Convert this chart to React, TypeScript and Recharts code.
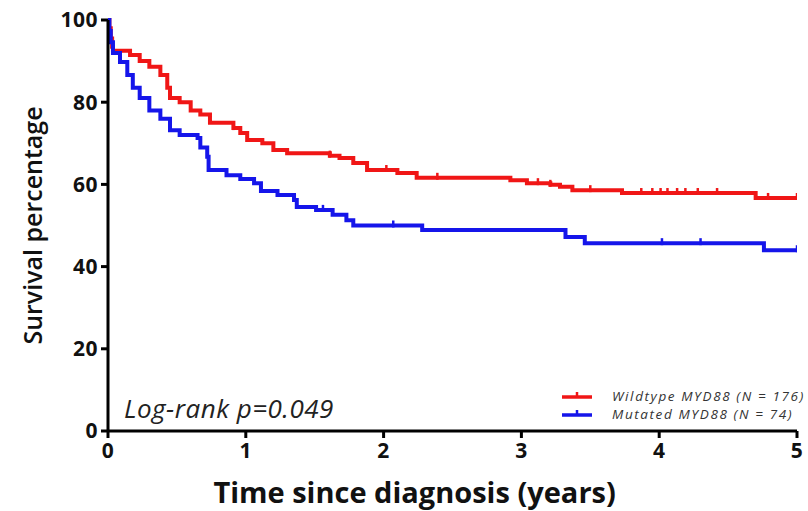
import React from "react";
import {
  ComposedChart,
  Line,
  Scatter,
  XAxis,
  YAxis,
} from "recharts";

// Kaplan–Meier steps: time (years) at which each survival level starts
const wildtypeTimes = [0, 0.01, 0.02, 0.03, 0.036, 0.16, 0.23, 0.3, 0.38, 0.43, 0.45, 0.52, 0.6, 0.67, 0.74, 0.91, 0.96, 1.01, 1.12, 1.2, 1.3, 1.61, 1.68, 1.78, 1.88, 2.1, 2.24, 2.92, 3.04, 3.21, 3.28, 3.37, 3.73, 4.7, 5.0];
const wildtypeSurv = [100, 98, 95.5, 93.5, 92.5, 91.5, 90, 88.6, 86.6, 83.5, 81, 80, 78, 77, 75, 73.7, 72.5, 70.8, 70, 68.4, 67.6, 67, 66.4, 65.2, 63.5, 62.8, 61.6, 61, 60.3, 59.9, 59.4, 58.6, 57.9, 56.7, 56.7];
const wildtypeCensored = [0.91, 1.61, 2.02, 2.39, 3.12, 3.21, 3.5, 3.87, 3.95, 4.01, 4.06, 4.13, 4.19, 4.28, 4.42, 4.79, 5.0];

const mutatedTimes = [0, 0.01, 0.02, 0.036, 0.087, 0.14, 0.18, 0.23, 0.3, 0.38, 0.45, 0.52, 0.65, 0.67, 0.72, 0.73, 0.86, 0.96, 1.06, 1.11, 1.23, 1.35, 1.37, 1.51, 1.63, 1.73, 1.78, 2.28, 3.32, 3.46, 4.76, 5.0];
const mutatedSurv = [100, 97.3, 94.6, 92, 89.8, 86.6, 83.5, 81, 78, 76, 73.2, 72, 71.3, 69, 66.7, 63.5, 62.2, 61.3, 60.3, 58.4, 57.4, 56.2, 54.5, 53.8, 52.6, 51.3, 50, 48.9, 47.2, 45.7, 44, 44];
const mutatedCensored = [1.56, 2.07, 4.02, 4.3, 5.0];

const xTicks = [0, 1, 2, 3, 4, 5];
const yTicks = [0, 20, 40, 60, 80, 100];

const RED = "#f01616";
const BLUE = "#1515ea";
const FONT = "'Open Sans', 'DejaVu Sans', sans-serif";

const series = [
  { key: "wt", name: "Wildtype MYD88 (N = 176)", color: RED, times: wildtypeTimes, surv: wildtypeSurv, censored: wildtypeCensored },
  { key: "mut", name: "Mutated MYD88 (N = 74)", color: BLUE, times: mutatedTimes, surv: mutatedSurv, censored: mutatedCensored },
];

function stepValue(times: number[], surv: number[], t: number): number {
  let v = surv[0];
  for (let i = 0; i < times.length; i++) {
    if (times[i] <= t + 1e-9) v = surv[i];
  }
  return v;
}

function CensorTick(props: any) {
  const { cx, cy, fill } = props;
  if (cx == null || cy == null) return null;
  return <line x1={cx} x2={cx} y1={cy - 5} y2={cy + 2} stroke={fill} strokeWidth={2.5} />;
}

function LegendBox() {
  return (
    <div
      style={{
        position: "absolute",
        left: 562,
        top: 387,
        fontFamily: FONT,
        fontStyle: "italic",
        fontSize: 13.5,
        letterSpacing: 1.6,
        color: "#333",
        lineHeight: "18px",
      }}
    >
      {series.map((s) => (
        <div key={s.key} style={{ display: "flex", alignItems: "center", whiteSpace: "nowrap", height: 18 }}>
          <svg width={30} height={18} style={{ marginRight: 20, flexShrink: 0 }}>
            <line x1={0} x2={30} y1={10} y2={10} stroke={s.color} strokeWidth={3.5} />
            <line x1={15} x2={15} y1={5} y2={10} stroke={s.color} strokeWidth={2.5} />
          </svg>
          <span>{s.name}</span>
        </div>
      ))}
    </div>
  );
}

function XLabel(props: any) {
  const vb = props.viewBox || {};
  return (
    <text
      x={vb.x + vb.width * 0.445}
      y={vb.y + 72}
      textAnchor="middle"
      fontFamily={FONT}
      fontWeight={700}
      fontSize={29}
      fill="#111"
    >
      Time since diagnosis (years)
    </text>
  );
}

function YLabel(props: any) {
  const vb = props.viewBox || {};
  const cx = 32;
  const cy = vb.y + vb.height / 2;
  return (
    <text
      x={cx}
      y={cy}
      transform={`rotate(-90, ${cx}, ${cy})`}
      textAnchor="middle"
      dominantBaseline="central"
      fontFamily={FONT}
      fontWeight={600}
      fontSize={25}
      fill="#111"
    >
      Survival percentage
    </text>
  );
}

export default function App() {
  const lineData = series.map((s) => s.times.map((t, i) => ({ t, s: s.surv[i] })));
  const censorData = series.map((s) => s.censored.map((t) => ({ t, s: stepValue(s.times, s.surv, t) })));
  const tickStyle = { fill: "#111", fontSize: 21, fontWeight: 700, fontFamily: FONT, letterSpacing: 0.5 };

  return (
    <div style={{ position: "absolute", left: 0, top: 0, width: 808, height: 511, overflow: "hidden", background: "#fff" }}>
      <ComposedChart width={808} height={511} margin={{ top: 20, right: 11, bottom: 0, left: 0 }}>
        <XAxis
          dataKey="t"
          type="number"
          domain={[0, 5]}
          ticks={xTicks}
          allowDataOverflow
          height={80}
          axisLine={{ stroke: "#000", strokeWidth: 3 }}
          tickLine={{ stroke: "#000", strokeWidth: 3 }}
          tickSize={7}
          tickMargin={5}
          tick={tickStyle}
          label={<XLabel />}
        />
        <YAxis
          type="number"
          domain={[0, 100]}
          ticks={yTicks}
          width={108}
          axisLine={{ stroke: "#000", strokeWidth: 3 }}
          tickLine={{ stroke: "#000", strokeWidth: 3 }}
          tickSize={7}
          tickMargin={3}
          tick={tickStyle}
          label={<YLabel />}
        />
        {series.map((s, i) => (
          <Line
            key={s.key}
            data={lineData[i]}
            dataKey="s"
            type="stepAfter"
            stroke={s.color}
            strokeWidth={4}
            dot={false}
            activeDot={false}
            isAnimationActive={false}
          />
        ))}
        {series.map((s, i) => (
          <Scatter
            key={s.key + "-c"}
            data={censorData[i]}
            dataKey="s"
            fill={s.color}
            shape={<CensorTick />}
            isAnimationActive={false}
          />
        ))}
      </ComposedChart>
      <LegendBox />
      <div
        style={{
          position: "absolute",
          left: 124,
          top: 390,
          fontFamily: FONT,
          fontStyle: "italic",
          fontSize: 26,
          letterSpacing: 0.5,
          lineHeight: "36px",
          color: "#222",
          whiteSpace: "nowrap",
        }}
      >
        Log-rank p=0.049
      </div>
    </div>
  );
}
